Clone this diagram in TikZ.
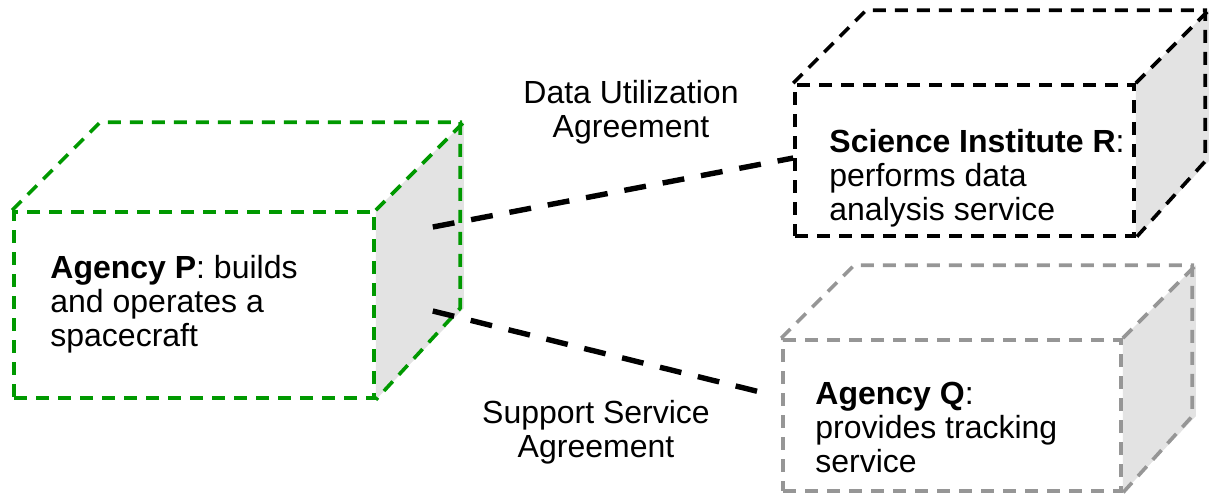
\documentclass[tikz,border=0pt]{standalone}
\usepackage{fontspec}
\setmainfont{Liberation Sans}
\usepackage{tikz}
\usetikzlibrary{backgrounds}
\definecolor{agencygreen}{RGB}{0,153,0}
\definecolor{agencygray}{RGB}{150,150,150}

\begin{document}
\begin{tikzpicture} [x=0.5pt, y=-0.5pt,
                boxline/.style = {line width=1.8pt, dash pattern=on 6.5pt off 4.5pt},
                frontbox/.style = {boxline, draw, rectangle, inner sep=0pt},
                sideface/.style = {fill=black!11},
                boxtext/.style = {inner sep=0pt, align=left, anchor=west, font=\fontsize{16}{17}\selectfont},
                agreement/.style = {inner sep=0pt, align=center, font=\fontsize{16}{17}\selectfont},
                link/.style = {line width=2.7pt, dash pattern=on 11pt off 8.5pt}
            ]
            \useasboundingbox (0,0) rectangle (1209,494);
            % agency P
            \node[frontbox, agencygreen, minimum width=180pt, minimum height=93pt] (P) at (194,305) {};
            \begin{pgfonlayer}{background}
                \fill[sideface] (P.north east) -- ++(88,-88) -- ++(0,186) -- (P.south east) -- cycle;
            \end{pgfonlayer}
            \draw[boxline, agencygreen] (P.north west) -- ++(88,-88) -- ++(360,0) -- ++(0,186) -- (P.south east);
            \draw[boxline, agencygreen] (P.north east) -- ++(88,-88);
            \node[boxtext] (Ptext) at (50,304) {\textbf{Agency P}: builds\\and operates a\\spacecraft};
            % science institute R
            \node[frontbox, black, minimum width=169.5pt, minimum height=75.5pt] (R) at (964.5,160.5) {};
            \begin{pgfonlayer}{background}
                \fill[sideface] (R.north east) -- ++(73,-73) -- ++(0,151) -- (R.south east) -- cycle;
            \end{pgfonlayer}
            \draw[boxline, black] (R.north west) -- ++(73,-73) -- ++(339,0) -- ++(0,151) -- (R.south east);
            \draw[boxline, black] (R.north east) -- ++(73,-73);
            \node[boxtext] (Rtext) at (829,178) {\textbf{Science Institute R}:\\performs data\\analysis service};
            % agency Q
            \node[frontbox, agencygray, minimum width=169pt, minimum height=75.5pt] (Q) at (952,415.5) {};
            \begin{pgfonlayer}{background}
                \fill[sideface] (Q.north east) -- ++(73,-73) -- ++(0,151) -- (Q.south east) -- cycle;
            \end{pgfonlayer}
            \draw[boxline, agencygray] (Q.north west) -- ++(73,-73) -- ++(338,0) -- ++(0,151) -- (Q.south east);
            \draw[boxline, agencygray] (Q.north east) -- ++(73,-73);
            \node[boxtext] (Qtext) at (815,427) {\textbf{Agency Q}:\\provides tracking\\service};
            % agreements
            \coordinate (Pdata) at ([xshift=28.5pt, yshift=39pt] P.east);
            \coordinate (Psupport) at ([xshift=28.5pt, yshift=-3pt] P.east);
            \draw[link] (Pdata) -- ([yshift=1.25pt] R.west);
            \draw[link] (Psupport) -- ([xshift=-6.5pt, yshift=10.75pt] Q.west);
            \node[agreement] (dua) at (631,112) {Data Utilization\\Agreement};
            \node[agreement] (ssa) at (596,432) {Support Service\\Agreement};
        \end{tikzpicture}
\end{document}
